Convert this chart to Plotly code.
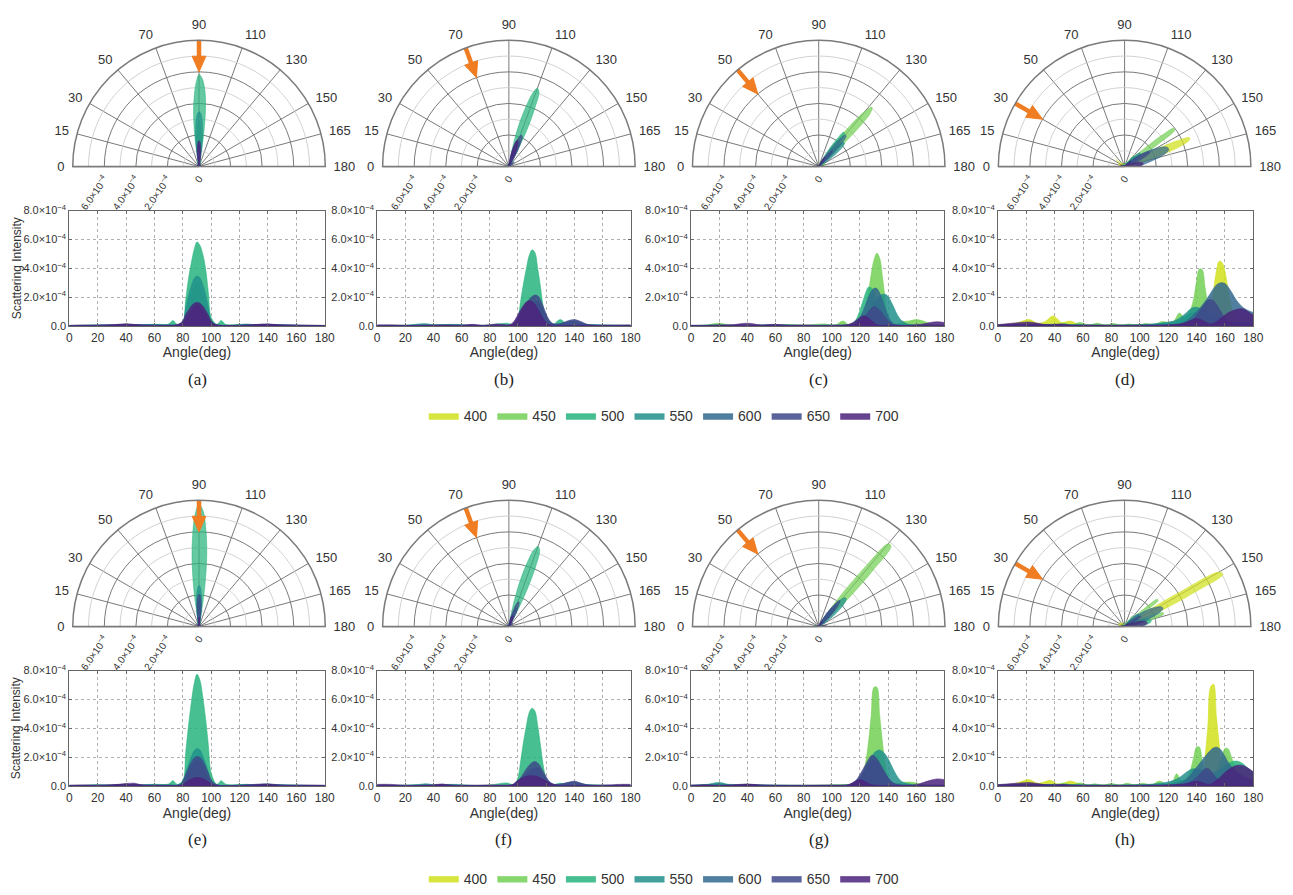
import math
import plotly.graph_objects as go

# ---------------- data (intensity in units of 1e-4) ----------------
WAVELENGTHS = ["400", "450", "500", "550", "600", "650", "700"]
PANEL_LABELS = ["(a)", "(b)", "(c)", "(d)", "(e)", "(f)", "(g)", "(h)"]
INCIDENT_ANGLES = [90, 70, 50, 30, 90, 70, 50, 30]
ANGLE_TICKS = [0, 15, 30, 50, 70, 90, 110, 130, 150, 165, 180]
X_TICKS = [0, 20, 40, 60, 80, 100, 120, 140, 160, 180]
Y_TICKS = [0, 2e-4, 4e-4, 6e-4, 8e-4]
Y_TICKTEXT = ["0.0", "2.0×10<sup>−4</sup>", "4.0×10<sup>−4</sup>", "6.0×10<sup>−4</sup>", "8.0×10<sup>−4</sup>"]
R_TICKS = [0, 2e-4, 4e-4, 6e-4]
R_TICKTEXT = ["0", "2.0×10<sup>−4</sup>", "4.0×10<sup>−4</sup>", "6.0×10<sup>−4</sup>"]
UNIT = 1e-4

# panel (a)
A400 = [[0,0.03],[40,0.05],[80,0.05],[84,0.8],[88,1.6],[90,1.8],[92,1.6],[96,0.8],[100,0.05],[140,0.05],[180,0.03]]
A450 = [[0,0.03],[40,0.06],[80,0.1],[84,1.5],[88,2.6],[90,2.9],[92,2.6],[96,1.5],[100,0.1],[140,0.06],[180,0.03]]
A500 = [[0,0.05],[10,0.05],[20,0.08],[30,0.05],[40,0.1],[50,0.06],[60,0.12],[66,0.08],[70,0.15],[73,0.38],[76,0.12],[80,0.3],[82,1.8],[84,3.3],[86,4.4],[88,5.3],[90,5.83],[92,5.6],[94,5.0],[96,4.0],[98,2.3],[100,0.6],[104,0.12],[107,0.38],[110,0.12],[115,0.08],[120,0.1],[125,0.12],[130,0.06],[140,0.12],[150,0.05],[160,0.04],[170,0.04],[180,0.04]]
A550 = [[0,0.04],[20,0.05],[40,0.08],[60,0.12],[70,0.1],[76,0.08],[80,0.3],[82,1.3],[84,2.1],[86,2.8],[88,3.3],[90,3.47],[92,3.35],[94,2.9],[96,2.2],[98,1.3],[100,0.4],[104,0.1],[115,0.08],[125,0.14],[135,0.06],[140,0.1],[160,0.05],[180,0.04]]
A600 = [[0,0.04],[40,0.1],[80,0.2],[84,0.7],[88,1.2],[90,1.3],[92,1.2],[96,0.7],[100,0.2],[140,0.1],[180,0.04]]
A650 = [[0,0.04],[40,0.12],[80,0.2],[84,0.8],[88,1.35],[90,1.45],[92,1.35],[96,0.8],[100,0.2],[140,0.12],[180,0.04]]
A700 = [[0,0.05],[10,0.06],[20,0.04],[30,0.08],[40,0.16],[50,0.06],[60,0.05],[70,0.06],[76,0.1],[80,0.35],[82,0.8],[84,1.1],[86,1.4],[88,1.58],[90,1.64],[92,1.58],[94,1.4],[96,1.1],[98,0.75],[100,0.35],[104,0.08],[115,0.05],[125,0.06],[140,0.15],[150,0.06],[165,0.04],[180,0.05]]

# panel (b)
B400 = [[0,0.03],[50,0.05],[98,0.05],[104,0.6],[110,1.0],[116,0.6],[122,0.05],[180,0.03]]
B450 = [[0,0.04],[50,0.06],[98,0.1],[104,1.2],[110,2.0],[116,1.2],[122,0.1],[180,0.04]]
B500 = [[0,0.05],[10,0.06],[20,0.05],[30,0.08],[40,0.06],[50,0.08],[60,0.06],[70,0.05],[80,0.08],[92,0.2],[96,0.12],[98,0.2],[100,0.6],[102,1.8],[104,3.0],[106,4.0],[108,4.9],[110,5.28],[112,5.1],[114,4.0],[116,2.7],[118,1.3],[120,0.5],[122,0.15],[125,0.1],[130,0.45],[135,0.12],[145,0.1],[160,0.06],[180,0.05]]
B550 = [[0,0.05],[20,0.06],[30,0.15],[35,0.16],[40,0.1],[55,0.12],[70,0.05],[98,0.1],[104,0.8],[110,1.2],[116,0.8],[122,0.1],[145,0.12],[160,0.08],[180,0.05]]
B600 = [[0,0.05],[40,0.06],[98,0.2],[104,1.0],[110,1.6],[114,1.7],[118,1.1],[124,0.2],[140,0.35],[150,0.1],[180,0.05]]
B650 = [[0,0.05],[20,0.05],[40,0.06],[60,0.05],[90,0.06],[96,0.1],[98,0.3],[100,0.6],[102,0.95],[104,1.3],[106,1.6],[108,1.85],[110,2.05],[112,2.15],[114,2.1],[116,1.8],[118,1.35],[120,0.85],[122,0.45],[125,0.15],[130,0.15],[135,0.35],[140,0.45],[145,0.3],[150,0.1],[165,0.06],[180,0.05]]
B700 = [[0,0.08],[10,0.08],[20,0.04],[30,0.05],[40,0.06],[50,0.08],[60,0.06],[68,0.12],[75,0.05],[85,0.15],[92,0.08],[94,0.1],[96,0.2],[98,0.45],[100,0.8],[102,1.15],[104,1.45],[106,1.68],[108,1.75],[110,1.7],[112,1.5],[114,1.2],[116,0.85],[118,0.5],[120,0.25],[122,0.1],[130,0.05],[150,0.05],[165,0.06],[180,0.08]]

# panel (c)
C400 = [[0,0.04],[40,0.05],[100,0.05],[125,0.2],[132,0.5],[140,0.2],[150,0.1],[180,0.05]]
C450 = [[0,0.04],[10,0.06],[20,0.2],[28,0.05],[40,0.06],[60,0.05],[70,0.1],[80,0.06],[95,0.15],[102,0.05],[108,0.35],[112,0.08],[118,0.1],[120,0.2],[122,0.5],[124,1.2],[126,2.3],[128,3.6],[130,4.6],[132,5.05],[134,4.7],[136,3.4],[138,1.8],[140,0.6],[142,0.2],[144,0.12],[147,0.15],[150,0.3],[155,0.35],[160,0.45],[165,0.35],[170,0.15],[175,0.1],[180,0.08]]
C500 = [[0,0.04],[20,0.08],[40,0.06],[60,0.08],[80,0.05],[100,0.08],[112,0.1],[116,0.3],[118,0.6],[120,1.1],[122,1.7],[124,2.3],[126,2.7],[128,2.65],[130,2.3],[132,1.7],[134,1.1],[136,0.6],[138,0.3],[140,0.15],[150,0.1],[180,0.05]]
C550 = [[0,0.04],[20,0.06],[40,0.05],[60,0.1],[80,0.05],[100,0.05],[116,0.1],[120,0.2],[124,0.5],[128,1.1],[130,1.5],[132,1.85],[134,2.1],[136,2.2],[138,2.2],[140,2.05],[142,1.7],[144,1.3],[147,0.7],[150,0.35],[155,0.12],[170,0.06],[180,0.05]]
C600 = [[0,0.04],[40,0.05],[100,0.05],[112,0.05],[116,0.1],[118,0.3],[120,0.6],[122,1.0],[124,1.5],[126,2.0],[128,2.4],[130,2.62],[132,2.6],[134,2.3],[136,1.8],[138,1.2],[140,0.7],[142,0.35],[144,0.15],[150,0.05],[180,0.04]]
C650 = [[0,0.04],[40,0.05],[110,0.05],[118,0.2],[122,0.5],[126,1.0],[130,1.35],[134,1.1],[138,0.6],[142,0.2],[150,0.05],[180,0.04]]
C700 = [[0,0.06],[10,0.05],[20,0.08],[30,0.1],[40,0.2],[50,0.08],[60,0.12],[70,0.06],[80,0.08],[90,0.05],[100,0.06],[108,0.08],[112,0.12],[116,0.3],[118,0.45],[120,0.6],[122,0.7],[124,0.68],[126,0.55],[128,0.4],[130,0.25],[132,0.1],[140,0.05],[155,0.06],[165,0.15],[170,0.25],[175,0.3],[180,0.25]]

# panel (d)
D400 = [[0,0.1],[10,0.15],[16,0.3],[22,0.45],[28,0.2],[33,0.3],[39,0.7],[45,0.25],[51,0.35],[56,0.15],[60,0.1],[70,0.1],[80,0.08],[90,0.08],[100,0.1],[110,0.1],[120,0.12],[128,0.15],[132,0.2],[136,0.3],[140,0.4],[144,0.35],[148,0.5],[150,1.2],[152,2.5],[154,3.8],[156,4.5],[158,4.4],[160,3.8],[162,2.7],[165,1.2],[168,0.5],[171,0.5],[174,0.6],[177,0.5],[180,0.4]]
D450 = [[0,0.06],[10,0.1],[20,0.15],[30,0.1],[40,0.1],[47,0.2],[52,0.08],[58,0.25],[64,0.06],[70,0.2],[76,0.06],[81,0.18],[87,0.06],[92,0.15],[98,0.06],[104,0.18],[110,0.12],[116,0.32],[120,0.25],[124,0.35],[128,0.9],[132,0.45],[134,0.8],[136,1.2],[138,1.9],[140,3.1],[142,3.95],[144,3.9],[146,2.7],[148,1.5],[150,0.7],[152,0.4],[156,0.3],[160,0.3],[170,0.2],[180,0.15]]
D500 = [[0,0.06],[20,0.12],[40,0.1],[60,0.08],[80,0.06],[100,0.08],[112,0.15],[120,0.2],[128,0.4],[132,0.7],[136,0.9],[140,0.9],[144,0.7],[150,0.4],[160,0.3],[180,0.2]]
D550 = [[0,0.06],[20,0.1],[40,0.12],[60,0.08],[80,0.06],[100,0.1],[110,0.15],[118,0.25],[124,0.35],[128,0.55],[132,0.85],[136,1.2],[138,1.3],[140,1.3],[142,1.25],[144,1.15],[148,1.0],[152,0.8],[158,0.5],[165,0.3],[172,0.2],[180,0.2]]
D600 = [[0,0.06],[20,0.12],[40,0.1],[60,0.06],[80,0.05],[100,0.06],[120,0.1],[128,0.15],[132,0.3],[136,0.6],[138,0.8],[140,1.0],[142,1.2],[144,1.45],[146,1.7],[148,2.0],[150,2.3],[152,2.6],[154,2.85],[156,2.97],[158,3.0],[160,2.95],[162,2.75],[165,2.3],[168,1.8],[171,1.45],[174,1.2],[177,1.05],[180,0.95]]
D650 = [[0,0.06],[20,0.1],[40,0.08],[80,0.05],[120,0.08],[132,0.15],[136,0.3],[138,0.5],[140,0.75],[142,1.0],[144,1.3],[146,1.55],[148,1.8],[150,1.85],[152,1.75],[154,1.5],[156,1.2],[158,0.85],[160,0.55],[162,0.35],[165,0.2],[172,0.12],[180,0.1]]
D700 = [[0,0.1],[10,0.2],[16,0.25],[22,0.28],[28,0.2],[33,0.1],[39,0.1],[45,0.15],[52,0.06],[60,0.06],[80,0.05],[100,0.05],[120,0.08],[128,0.15],[132,0.25],[136,0.4],[138,0.5],[140,0.52],[142,0.48],[144,0.4],[146,0.3],[148,0.2],[150,0.15],[152,0.2],[154,0.3],[156,0.45],[158,0.6],[160,0.75],[162,0.9],[165,1.05],[168,1.15],[171,1.2],[174,1.15],[177,0.95],[180,0.75]]

# panel (e)
E400 = [[0,0.03],[40,0.05],[80,0.05],[84,0.6],[88,1.2],[90,1.3],[92,1.2],[96,0.6],[100,0.05],[140,0.05],[180,0.03]]
E450 = [[0,0.03],[40,0.06],[80,0.1],[84,1.0],[88,1.9],[90,2.1],[92,1.9],[96,1.0],[100,0.1],[140,0.06],[180,0.03]]
E500 = [[0,0.05],[10,0.05],[20,0.1],[30,0.05],[40,0.08],[50,0.06],[60,0.12],[66,0.1],[70,0.15],[73,0.38],[76,0.12],[80,0.4],[82,2.3],[84,4.2],[86,5.8],[88,7.1],[90,7.75],[92,7.35],[94,6.2],[96,4.7],[98,2.8],[100,0.9],[104,0.12],[107,0.38],[110,0.15],[115,0.08],[120,0.1],[125,0.12],[130,0.06],[140,0.1],[150,0.05],[160,0.05],[170,0.04],[180,0.04]]
E550 = [[0,0.04],[20,0.06],[40,0.08],[60,0.12],[70,0.1],[76,0.08],[80,0.3],[82,0.9],[84,1.5],[86,2.05],[88,2.45],[90,2.6],[92,2.5],[94,2.1],[96,1.6],[98,0.95],[100,0.35],[104,0.1],[115,0.08],[125,0.12],[135,0.06],[140,0.1],[160,0.06],[180,0.04]]
E600 = [[0,0.04],[40,0.1],[80,0.2],[84,0.9],[88,1.6],[90,1.75],[92,1.6],[96,0.9],[100,0.2],[140,0.12],[180,0.04]]
E650 = [[0,0.05],[20,0.06],[40,0.12],[60,0.06],[78,0.1],[80,0.35],[82,0.8],[84,1.25],[86,1.65],[88,1.95],[90,2.05],[92,2.0],[94,1.75],[96,1.35],[98,0.9],[100,0.45],[104,0.1],[120,0.06],[140,0.16],[150,0.06],[165,0.05],[180,0.05]]
E700 = [[0,0.06],[10,0.08],[20,0.05],[30,0.08],[40,0.18],[46,0.2],[52,0.06],[60,0.05],[70,0.06],[78,0.05],[80,0.1],[82,0.25],[84,0.4],[86,0.5],[88,0.57],[90,0.6],[92,0.58],[94,0.52],[96,0.42],[98,0.3],[100,0.15],[104,0.05],[125,0.05],[140,0.12],[150,0.05],[165,0.06],[180,0.06]]

# panel (f)
F400 = [[0,0.03],[50,0.05],[98,0.05],[104,0.3],[110,0.5],[116,0.3],[122,0.05],[180,0.03]]
F450 = [[0,0.04],[50,0.06],[98,0.1],[104,0.5],[110,0.8],[116,0.5],[122,0.1],[180,0.04]]
F500 = [[0,0.06],[10,0.05],[20,0.06],[30,0.08],[40,0.06],[50,0.08],[60,0.06],[70,0.05],[80,0.08],[92,0.22],[96,0.12],[98,0.2],[100,0.6],[102,1.8],[104,3.1],[106,4.2],[108,5.1],[110,5.4],[112,5.2],[114,4.2],[116,2.8],[118,1.4],[120,0.5],[122,0.15],[125,0.1],[130,0.2],[135,0.08],[145,0.1],[160,0.06],[180,0.05]]
F550 = [[0,0.05],[20,0.06],[30,0.12],[35,0.16],[40,0.1],[55,0.12],[70,0.05],[98,0.1],[104,0.5],[110,0.8],[116,0.5],[122,0.1],[145,0.1],[160,0.06],[180,0.05]]
F600 = [[0,0.05],[40,0.06],[98,0.15],[104,0.7],[110,1.2],[114,1.25],[118,0.8],[124,0.15],[140,0.28],[150,0.08],[180,0.05]]
F650 = [[0,0.06],[20,0.05],[40,0.08],[46,0.12],[60,0.05],[90,0.06],[96,0.1],[98,0.15],[100,0.35],[102,0.6],[104,0.9],[106,1.2],[108,1.45],[110,1.62],[112,1.7],[114,1.6],[116,1.35],[118,1.0],[120,0.65],[122,0.35],[125,0.15],[130,0.12],[135,0.25],[140,0.34],[145,0.2],[150,0.08],[165,0.06],[180,0.06]]
F700 = [[0,0.12],[10,0.12],[20,0.05],[30,0.05],[40,0.08],[46,0.15],[52,0.06],[60,0.05],[70,0.06],[80,0.08],[90,0.06],[94,0.06],[96,0.1],[98,0.25],[100,0.4],[102,0.52],[104,0.62],[106,0.68],[108,0.72],[110,0.72],[112,0.7],[114,0.65],[116,0.57],[118,0.47],[120,0.36],[122,0.25],[125,0.12],[130,0.05],[150,0.05],[165,0.08],[172,0.12],[180,0.12]]

# panel (g)
G400 = [[0,0.04],[40,0.05],[100,0.05],[125,0.2],[130,0.4],[136,0.2],[150,0.1],[180,0.05]]
G450 = [[0,0.05],[10,0.06],[20,0.15],[28,0.05],[40,0.06],[60,0.05],[80,0.06],[100,0.08],[110,0.1],[118,0.1],[120,0.25],[122,0.7],[124,1.6],[126,3.0],[128,4.9],[130,6.85],[132,6.85],[134,4.9],[136,3.0],[138,1.5],[140,0.6],[142,0.25],[144,0.15],[147,0.2],[150,0.25],[155,0.28],[160,0.22],[165,0.1],[170,0.06],[180,0.05]]
G500 = [[0,0.05],[20,0.15],[40,0.06],[60,0.05],[100,0.06],[116,0.15],[122,0.7],[128,1.5],[134,0.9],[140,0.3],[150,0.08],[180,0.05]]
G550 = [[0,0.05],[10,0.08],[20,0.25],[28,0.08],[40,0.1],[60,0.06],[80,0.05],[100,0.06],[110,0.08],[114,0.1],[116,0.2],[118,0.35],[120,0.6],[122,0.95],[124,1.3],[126,1.65],[128,2.0],[130,2.3],[132,2.45],[134,2.5],[136,2.4],[138,2.2],[140,1.9],[142,1.5],[144,1.1],[147,0.6],[150,0.3],[155,0.15],[165,0.08],[180,0.05]]
G600 = [[0,0.05],[40,0.08],[100,0.05],[112,0.08],[118,0.4],[124,1.2],[130,1.8],[136,1.1],[142,0.3],[150,0.08],[180,0.05]]
G650 = [[0,0.06],[20,0.05],[40,0.12],[60,0.05],[100,0.06],[108,0.06],[112,0.1],[116,0.3],[118,0.5],[120,0.8],[122,1.15],[124,1.5],[126,1.85],[128,2.1],[130,2.1],[132,1.9],[134,1.6],[136,1.25],[138,0.9],[140,0.6],[142,0.35],[144,0.2],[147,0.1],[160,0.06],[180,0.06]]
G700 = [[0,0.06],[10,0.1],[20,0.05],[30,0.08],[40,0.15],[50,0.06],[60,0.05],[80,0.05],[100,0.06],[108,0.06],[112,0.1],[116,0.3],[118,0.4],[120,0.45],[122,0.4],[124,0.3],[126,0.18],[128,0.1],[135,0.05],[150,0.05],[160,0.1],[165,0.25],[170,0.4],[175,0.5],[180,0.45]]

# panel (h)
H400 = [[0,0.1],[10,0.12],[16,0.3],[22,0.45],[28,0.2],[33,0.3],[37,0.4],[42,0.15],[46,0.2],[51,0.35],[56,0.2],[60,0.1],[70,0.08],[80,0.08],[90,0.08],[100,0.1],[110,0.1],[120,0.12],[128,0.15],[134,0.2],[140,0.3],[144,0.4],[146,2.0],[148,4.2],[150,6.9],[152,7.05],[154,4.8],[156,2.9],[158,1.3],[160,0.6],[164,0.4],[170,0.4],[180,0.4]]
H450 = [[0,0.06],[10,0.1],[20,0.12],[30,0.1],[40,0.1],[47,0.2],[52,0.08],[58,0.22],[64,0.06],[68,0.16],[74,0.06],[80,0.18],[86,0.06],[91,0.2],[97,0.06],[102,0.2],[108,0.08],[114,0.35],[119,0.12],[123,0.3],[126,0.85],[129,0.4],[132,0.4],[134,0.7],[136,1.2],[138,2.0],[140,2.7],[142,2.7],[144,1.8],[146,0.9],[148,0.5],[150,0.45],[152,0.55],[154,0.9],[156,1.4],[158,2.1],[160,2.6],[162,2.6],[165,1.9],[168,1.0],[171,0.5],[174,0.3],[180,0.2]]
H500 = [[0,0.06],[20,0.12],[40,0.1],[60,0.08],[80,0.06],[100,0.08],[120,0.15],[130,0.4],[140,0.7],[150,0.9],[156,1.1],[160,1.4],[163,1.6],[166,1.72],[169,1.72],[172,1.6],[175,1.35],[178,1.1],[180,0.95]]
H550 = [[0,0.06],[20,0.1],[40,0.12],[60,0.08],[80,0.06],[100,0.1],[110,0.15],[118,0.25],[124,0.4],[128,0.6],[132,0.9],[136,1.15],[138,1.2],[140,1.2],[144,1.1],[148,0.9],[154,0.6],[160,0.4],[170,0.3],[180,0.25]]
H600 = [[0,0.06],[20,0.12],[40,0.1],[60,0.06],[80,0.05],[100,0.06],[120,0.1],[128,0.2],[132,0.4],[136,0.8],[138,1.05],[140,1.3],[142,1.55],[144,1.8],[146,2.05],[148,2.3],[150,2.5],[152,2.65],[154,2.7],[156,2.62],[158,2.4],[160,2.05],[162,1.7],[165,1.3],[168,1.0],[171,0.8],[174,0.6],[177,0.5],[180,0.45]]
H650 = [[0,0.06],[20,0.1],[40,0.08],[80,0.05],[120,0.08],[132,0.15],[136,0.3],[140,0.6],[142,0.8],[144,1.0],[146,1.2],[148,1.22],[150,1.05],[152,0.8],[154,0.55],[156,0.35],[158,0.2],[165,0.1],[180,0.08]]
H700 = [[0,0.1],[10,0.18],[16,0.22],[22,0.25],[28,0.18],[33,0.1],[40,0.08],[46,0.12],[52,0.06],[60,0.05],[80,0.05],[100,0.05],[120,0.08],[128,0.12],[134,0.2],[138,0.3],[141,0.32],[144,0.25],[148,0.12],[150,0.15],[152,0.25],[154,0.4],[156,0.55],[158,0.75],[160,0.95],[162,1.1],[165,1.3],[168,1.43],[171,1.45],[174,1.38],[177,1.2],[180,1.0]]

PANELS = [
    [A400, A450, A500, A550, A600, A650, A700],
    [B400, B450, B500, B550, B600, B650, B700],
    [C400, C450, C500, C550, C600, C650, C700],
    [D400, D450, D500, D550, D600, D650, D700],
    [E400, E450, E500, E550, E600, E650, E700],
    [F400, F450, F500, F550, F600, F650, F700],
    [G400, G450, G500, G550, G600, G650, G700],
    [H400, H450, H500, H550, H600, H650, H700],
]

# ---------------- styling / layout ----------------
COLORS = [(208, 225, 28), (115, 208, 85), (40, 180, 125), (33, 145, 140),
          (49, 104, 142), (62, 73, 137), (75, 35, 125)]
W, H = 1293, 895
POLAR_CX = [198, 511, 824, 1133]
POLAR_CY = [162, 632]
RADIUS_PX = 129
CART_X = [(67, 325), (378, 634), (695, 951), (1005, 1263)]
CART_Y = [(207, 325), (677, 795)]
LABEL_X = [196, 506, 824, 1133]
LABEL_Y = [380, 850]
LEGEND_Y = [417, 890]
ARROW_COLOR = "#f07d22"
FONT = "Liberation Sans, Arial, sans-serif"


def rgba(c, a):
    return f"rgba({c[0]},{c[1]},{c[2]},{a})"


def to_polar_theta(angle):
    # scattering angle 0 sits on the left, 180 on the right
    return 180 - angle


fig = go.Figure()
layout = {}
annotations = []

for i, series in enumerate(PANELS):
    row, col = divmod(i, 4)
    sfx = "" if i == 0 else str(i + 1)
    pid = "polar" + sfx
    cx, cy = POLAR_CX[col], POLAR_CY[row]

    layout[pid] = dict(
        domain=dict(x=[(cx - RADIUS_PX) / W, (cx + RADIUS_PX) / W],
                    y=[1 - cy / H, 1 - (cy - RADIUS_PX) / H]),
        sector=[0, 180],
        bgcolor="rgba(0,0,0,0)",
        angularaxis=dict(rotation=0, direction="counterclockwise", tickmode="array",
                         tickvals=[to_polar_theta(t) for t in ANGLE_TICKS],
                         ticktext=[str(t) for t in ANGLE_TICKS],
                         showline=True, linecolor="#7a7a7a", linewidth=1.5,
                         showgrid=True, gridcolor="#7a7a7a", gridwidth=1.2,
                         ticks="outside", ticklen=5, tickcolor="rgba(255,255,255,0)",
                         tickfont=dict(size=13, color="#333")),
        radialaxis=dict(range=[0, 8e-4], angle=180, side="counterclockwise",
                        tickmode="array", tickvals=R_TICKS, ticktext=R_TICKTEXT,
                        tickangle=125, showline=True, linecolor="#7a7a7a", linewidth=1.2,
                        showgrid=True, gridcolor="#7a7a7a", gridwidth=1.2,
                        ticks="", tickfont=dict(size=10, color="#333")),
    )

    # light minor circles
    th = list(range(0, 181, 2))
    for rr in [1, 3, 5, 7]:
        fig.add_trace(go.Scatterpolar(theta=th, r=[rr * UNIT] * len(th), mode="lines",
                                      line=dict(color="#d0d0d0", width=1),
                                      subplot=pid, showlegend=False, hoverinfo="skip"))

    # lobes
    for k, pts in enumerate(series):
        tv = [to_polar_theta(a) for a in [0] + [a for a, _ in pts] + [180]]
        rv = [0] + [v * UNIT for _, v in pts] + [0]
        fig.add_trace(go.Scatterpolar(
            theta=tv, r=rv, mode="lines", fill="toself",
            fillcolor=rgba(COLORS[k], 0.72),
            line=dict(color=rgba(COLORS[k], 0.85), width=0.6, shape="spline", smoothing=1),
            subplot=pid, showlegend=False, hoverinfo="skip"))

    # incident arrow
    inc = to_polar_theta(INCIDENT_ANGLES[i])
    px_per_r = RADIUS_PX / 8e-4
    r_base = 7.0e-4
    half = math.degrees(math.atan(7.0 / (r_base * px_per_r)))
    fig.add_trace(go.Scatterpolar(theta=[inc, inc], r=[8.0e-4, 6.9e-4], mode="lines",
                                  line=dict(color=ARROW_COLOR, width=4.5),
                                  subplot=pid, showlegend=False, hoverinfo="skip"))
    fig.add_trace(go.Scatterpolar(theta=[inc, inc - half, inc + half, inc],
                                  r=[6.0e-4, r_base, r_base, 6.0e-4], mode="lines",
                                  fill="toself", fillcolor=ARROW_COLOR,
                                  line=dict(color=ARROW_COLOR, width=1),
                                  subplot=pid, showlegend=False, hoverinfo="skip"))

    # cartesian area chart
    xa, ya = "x" + sfx, "y" + sfx
    for k, pts in enumerate(series):
        fig.add_trace(go.Scatter(
            x=[a for a, _ in pts], y=[v * UNIT for _, v in pts], mode="lines",
            fill="tozeroy", fillcolor=rgba(COLORS[k], 0.85),
            line=dict(color=rgba(COLORS[k], 0.95), width=0.6, shape="spline", smoothing=1),
            xaxis=xa, yaxis=ya, name=WAVELENGTHS[k],
            showlegend=(i in (0, 4)), legend=("legend" if i == 0 else "legend2"),
            hoverinfo="skip"))

    x0, x1 = CART_X[col]
    y0, y1 = CART_Y[row]
    layout["xaxis" + sfx] = dict(
        domain=[x0 / W, x1 / W], anchor=ya, range=[0, 180],
        tickmode="array", tickvals=X_TICKS,
        showline=True, mirror="ticks", linecolor="#666", linewidth=1,
        ticks="inside", ticklen=3, tickcolor="#666",
        showgrid=True, gridcolor="#b0b0b0", griddash="dot", gridwidth=1,
        zeroline=False, tickfont=dict(size=12, color="#333"),
        title=dict(text="Angle(deg)", font=dict(size=14, color="#333"), standoff=3))
    layout["yaxis" + sfx] = dict(
        domain=[1 - y1 / H, 1 - y0 / H], anchor=xa, range=[0, 8e-4],
        tickmode="array", tickvals=Y_TICKS, ticktext=Y_TICKTEXT,
        showline=True, mirror="ticks", linecolor="#666", linewidth=1,
        ticks="inside", ticklen=3, tickcolor="#666",
        showgrid=True, gridcolor="#b0b0b0", griddash="dot", gridwidth=1,
        zeroline=False, tickfont=dict(size=11, color="#333"))

    annotations.append(dict(text=PANEL_LABELS[i], x=LABEL_X[col] / W, y=1 - LABEL_Y[row] / H,
                            xref="paper", yref="paper", showarrow=False,
                            xanchor="center", yanchor="middle",
                            font=dict(family="Liberation Serif, Times New Roman, serif",
                                      size=17, color="#222")))
    if col == 0:
        annotations.append(dict(text="Scattering Intensity", x=14 / W,
                                y=1 - (y0 + y1) / 2 / H, xref="paper", yref="paper",
                                xanchor="center", yanchor="middle",
                                showarrow=False, textangle=-90,
                                font=dict(size=12, color="#333")))

legend_common = dict(orientation="h", xanchor="center", yanchor="middle",
                     font=dict(size=14, color="#333"), itemwidth=30,
                     bgcolor="rgba(0,0,0,0)", itemclick=False, itemdoubleclick=False)
layout["legend"] = dict(legend_common, x=668 / W, y=1 - LEGEND_Y[0] / H)
layout["legend2"] = dict(legend_common, x=668 / W, y=1 - LEGEND_Y[1] / H)

fig.update_layout(width=W, height=H, margin=dict(l=0, r=0, t=0, b=0),
                  paper_bgcolor="white", plot_bgcolor="white",
                  font=dict(family=FONT, color="#333"), hovermode=False,
                  annotations=annotations, **layout)

fig.write_html("out.html")
